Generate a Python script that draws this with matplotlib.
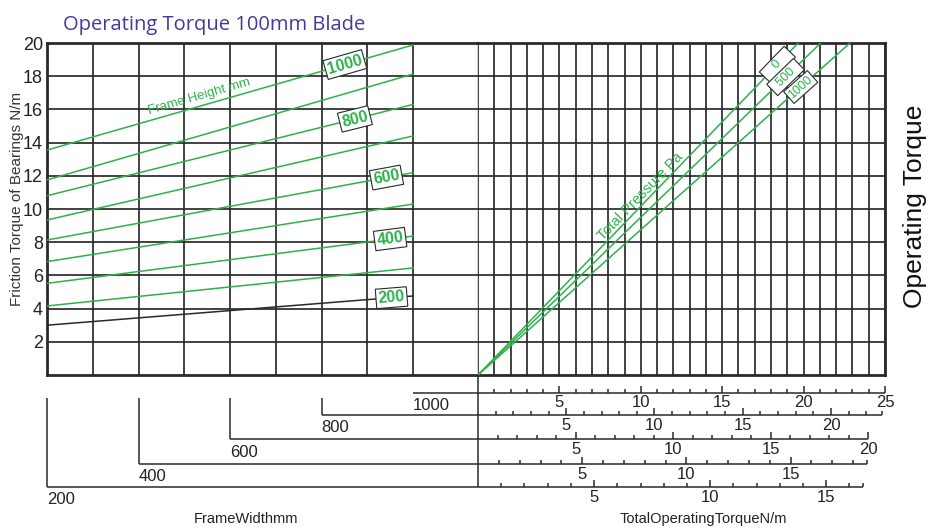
import numpy as np
import matplotlib
matplotlib.use("Agg")
import matplotlib.pyplot as plt

plt.rcParams["font.family"] = ["Liberation Sans", "DejaVu Sans"]

W, H = 939, 529
GREEN = "#2db24a"
INK = "#2a2a2a"

TITLE = "Operating Torque 100mm Blade"

# left panel: friction torque vs frame width, one line per frame height
FRAME_HEIGHTS = [200, 300, 400, 500, 600, 700, 800, 900, 1000]
FRICTION_AT_W200 = [3.0, 4.16, 5.52, 6.83, 8.13, 9.34, 10.8, 11.75, 13.55]
FRICTION_AT_W1000 = [4.76, 6.45, 8.37, 10.3, 12.19, 14.4, 16.3, 18.13, 19.88]
LABELLED_HEIGHTS = [200, 400, 600, 800, 1000]

# right panel: total pressure lines from the origin
PRESSURES = [0, 500, 1000]
COLUMN_AT_FRICTION20 = [19.67, 21.05, 22.85]

# bottom scales, one per frame width
FRAME_WIDTHS = [1000, 800, 600, 400, 200]
SCALE_MAX = [25, 22.9, 20, 18.65, 16.6]
COLUMNS_PER_UNIT = [1.0, 1.084, 1.198, 1.28, 1.426]

Y_TICKS = [2, 4, 6, 8, 10, 12, 14, 16, 18, 20]


def px_box(x0, y0, x1, y1):
    return [x0 / W, 1 - y1 / H, (x1 - x0) / W, (y1 - y0) / H]


def screen_angle(ax, p0, p1):
    a = ax.transData.transform(p0)
    b = ax.transData.transform(p1)
    return np.degrees(np.arctan2(b[1] - a[1], b[0] - a[0]))


fig = plt.figure(figsize=(W / 100, H / 100), dpi=100)
ax_l = fig.add_axes(px_box(47, 43, 478, 375))
ax_r = fig.add_axes(px_box(478, 43, 885, 375))

ax_l.set_xlim(200, 1142)
ax_l.set_ylim(0, 20)
ax_r.set_xlim(0, 25)
ax_r.set_ylim(0, 20)

ax_l.set_xticks(range(200, 1001, 100))
ax_l.set_xticklabels([])
ax_l.set_yticks(Y_TICKS)
ax_l.set_yticklabels([str(t) for t in Y_TICKS], fontsize=13, color="#222")
ax_l.tick_params(length=0, pad=3)
ax_r.set_xticks(range(0, 26))
ax_r.set_yticks(Y_TICKS)
ax_r.set_xticklabels([])
ax_r.set_yticklabels([])
ax_r.tick_params(length=0)
for ax in (ax_l, ax_r):
    ax.grid(True, color=INK, linewidth=1.25)
    ax.set_axisbelow(True)
    for s in ax.spines.values():
        s.set_color(INK)
        s.set_linewidth(2.0)
ax_l.spines["right"].set_linewidth(1.0)
ax_r.spines["left"].set_visible(False)

# frame height lines
for h, a, b in zip(FRAME_HEIGHTS, FRICTION_AT_W200, FRICTION_AT_W1000):
    col = INK if h == 200 else GREEN
    ax_l.plot([200, 1000], [a, b], color=col, linewidth=1.1, zorder=3)

label_at_width = [953, 950, 942, 873, 851]
for h, fw in zip(LABELLED_HEIGHTS, label_at_width):
    i = FRAME_HEIGHTS.index(h)
    a, b = FRICTION_AT_W200[i], FRICTION_AT_W1000[i]
    y = np.interp(fw, [200, 1000], [a, b])
    ang = screen_angle(ax_l, (200, a), (1000, b))
    ax_l.text(fw, y, str(h), color=GREEN, fontsize=11.5, fontweight="bold",
              ha="center", va="center", rotation=ang, rotation_mode="anchor",
              zorder=5,
              bbox=dict(boxstyle="square,pad=0.14", fc="white", ec=INK, lw=0.8))

i_top = FRAME_HEIGHTS.index(1000)
ang = screen_angle(ax_l, (200, FRICTION_AT_W200[i_top]), (1000, FRICTION_AT_W1000[i_top]))
ax_l.text(532, 16.75, "Frame Height mm", color=GREEN, fontsize=9.5,
          ha="center", va="center", rotation=ang, rotation_mode="anchor", zorder=5)

# total pressure lines
for p, xt in zip(PRESSURES, COLUMN_AT_FRICTION20):
    ax_r.plot([0, xt], [0, 20], color=GREEN, linewidth=1.1, zorder=3)

label_at_friction = [18.7, 17.95, 17.35]
for p, xt, yl in zip(PRESSURES, COLUMN_AT_FRICTION20, label_at_friction):
    ang = screen_angle(ax_r, (0, 0), (xt, 20))
    ax_r.text(xt * yl / 20, yl, f"{p:^5}".replace(" ", "\u2002") if p < 1000 else str(p),
              color=GREEN, fontsize=9,
              ha="center", va="center", rotation=ang, rotation_mode="anchor",
              zorder=5,
              bbox=dict(boxstyle="square,pad=0.15", fc="white", ec=INK, lw=0.8))

ang = screen_angle(ax_r, (0, 0), (COLUMN_AT_FRICTION20[0], 20))
ax_r.text(9.95, 10.74, "Total Pressure Pa", color=GREEN, fontsize=10.5,
          ha="center", va="center", rotation=ang, rotation_mode="anchor", zorder=5)

# bottom scales (y in the panels' data units, below zero)
scale_y = [-1.07, -2.41, -3.86, -5.36, -6.75]
stem_top = -1.40
x_edge = ax_l.get_xlim()[1]
line_kw = dict(color=INK, linewidth=1.1, clip_on=False, solid_capstyle="butt")

ax_r.plot([0, 0], [0, scale_y[-1]], **line_kw)
for k, (fw, vmax, cpu, yk) in enumerate(zip(FRAME_WIDTHS, SCALE_MAX,
                                             COLUMNS_PER_UNIT, scale_y)):
    ax_l.plot([fw, x_edge], [yk, yk], **line_kw)
    if k > 0:
        ax_l.plot([fw, fw], [stem_top, yk], **line_kw)
    ax_l.text(fw, yk - 1.05, str(fw), fontsize=12, color="#222",
              ha="left", va="baseline")

    ax_r.plot([0, vmax * cpu], [yk, yk], **line_kw)
    vals = np.arange(1, int(np.floor(vmax)) + 1)
    for v in vals:
        tall = 0.4 if v % 5 == 0 else 0.22
        ax_r.plot([v * cpu, v * cpu], [yk, yk + tall], **line_kw)
        if v % 5 == 0:
            ax_r.text(v * cpu, yk - 0.885, str(v), fontsize=12, color="#222",
                      ha="center", va="baseline")
    if vmax > vals[-1] + 0.05:
        ax_r.plot([vmax * cpu, vmax * cpu], [yk, yk + 0.22], **line_kw)

# titles
fig.text(63 / W, 1 - 30 / H, TITLE, fontsize=14.5, color="#403a9c",
         family=["Open Sans", "DejaVu Sans"], ha="left", va="baseline")
fig.text(17 / W, 1 - 199 / H, "Friction Torque of Bearings N/m", fontsize=11,
         color="#333", rotation=90, ha="center", va="center")
fig.text(915 / W, 1 - 206 / H, "Operating Torque", fontsize=19, color="#111",
         rotation=90, ha="center", va="center")
fig.text(246 / W, 1 - 523 / H, "FrameWidthmm", fontsize=10.5, color="#222",
         ha="center", va="baseline")
fig.text(703 / W, 1 - 523 / H, "TotalOperatingTorqueN/m", fontsize=10.5,
         color="#222", ha="center", va="baseline")

fig.savefig("out.png", dpi=100)
